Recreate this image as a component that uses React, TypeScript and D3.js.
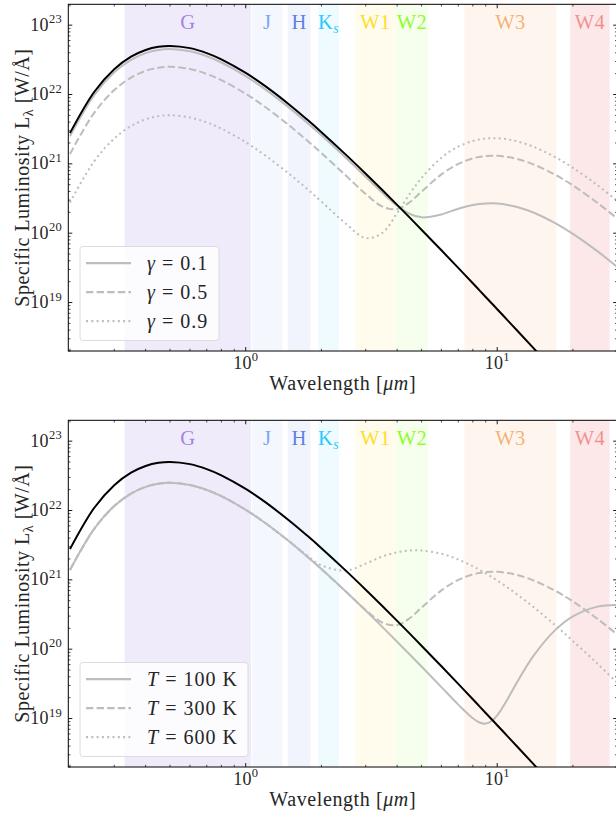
import React from "react";
import * as d3 from "d3";

// Wavelength grid (µm) shared by all spectra
const wavelength = [0.2, 0.25, 0.3, 0.35, 0.4, 0.45, 0.5, 0.6, 0.7, 0.8, 1.0, 1.2, 1.5, 1.75, 2, 2.5, 3, 3.5, 4, 4.5, 5, 6, 7, 8, 8.5, 9, 9.5, 10, 11, 12, 14, 17, 20, 25, 30];

// Specific luminosity (W/Å) of the bare star
const lumStar = [2.774e21, 1.0965e22, 2.318e22, 3.513e22, 4.389e22, 4.875e22, 5.02e22, 4.668e22, 3.958e22, 3.219e22, 2.049e22, 1.308e22, 7.008e21, 4.384e21, 2.864e21, 1.359e21, 7.212e20, 4.161e20, 2.563e20, 1.6615e20, 1.1236e20, 5.665e19, 3.156e19, 1.894e19, 1.5005e19, 1.2041e19, 9.773e18, 8.016e18, 5.539e18, 3.95e18, 2.165e18, 1.012e18, 5.342e17, 2.216e17, 1.078e17];

// Star + dust at 300 K, for three reprocessed fractions γ
const lumGamma01 = [2.497e21, 9.869e21, 2.086e22, 3.162e22, 3.95e22, 4.388e22, 4.518e22, 4.201e22, 3.562e22, 2.897e22, 1.844e22, 1.177e22, 6.307e21, 3.946e21, 2.578e21, 1.2234e21, 6.506e20, 3.812e20, 2.496e20, 1.893e20, 1.693e20, 1.865e20, 2.25e20, 2.548e20, 2.635e20, 2.682e20, 2.692e20, 2.671e20, 2.557e20, 2.382e20, 1.969e20, 1.4e20, 9.795e19, 5.517e19, 3.262e19];
const lumGamma05 = [1.387e21, 5.4825e21, 1.159e22, 1.7565e22, 2.1945e22, 2.4375e22, 2.51e22, 2.334e22, 1.979e22, 1.6095e22, 1.0245e22, 6.54e21, 3.504e21, 2.192e21, 1.432e21, 6.802e20, 3.679e20, 2.414e20, 2.2265e20, 2.818e20, 3.969e20, 7.059e20, 9.988e20, 1.198e21, 1.2577e21, 1.293e21, 1.3071e21, 1.3035e21, 1.2562e21, 1.175e21, 9.759e20, 6.959e20, 4.876e20, 2.75e20, 1.627e20];
const lumGamma09 = [2.774e20, 1.0965e21, 2.318e21, 3.513e21, 4.389e21, 4.875e21, 5.02e21, 4.668e21, 3.958e21, 3.219e21, 2.049e21, 1.308e21, 7.008e20, 4.384e20, 2.864e20, 1.372e20, 8.526e19, 1.016e20, 1.957e20, 3.743e20, 6.245e20, 1.2253e21, 1.7726e21, 2.1412e21, 2.2519e21, 2.3178e21, 2.345e21, 2.34e21, 2.2567e21, 2.1118e21, 1.7549e21, 1.2517e21, 8.773e20, 4.947e20, 2.927e20];

// Star + dust with γ = 0.5, for three dust temperatures
const lumT100 = [1.387e21, 5.4825e21, 1.159e22, 1.7565e22, 2.1945e22, 2.4375e22, 2.51e22, 2.334e22, 1.979e22, 1.6095e22, 1.0245e22, 6.54e21, 3.504e21, 2.192e21, 1.432e21, 6.795e20, 3.606e20, 2.0805e20, 1.2815e20, 8.3075e19, 5.618e19, 2.8325e19, 1.587e19, 1.007e19, 8.77e18, 8.45e18, 9.21e18, 1.113e19, 1.914e19, 3.35e19, 8.19e19, 1.883e20, 2.97e20, 4.11e20, 4.332e20];
const lumT300 = [1.387e21, 5.4825e21, 1.159e22, 1.7565e22, 2.1945e22, 2.4375e22, 2.51e22, 2.334e22, 1.979e22, 1.6095e22, 1.0245e22, 6.54e21, 3.504e21, 2.192e21, 1.432e21, 6.802e20, 3.679e20, 2.414e20, 2.2265e20, 2.818e20, 3.969e20, 7.059e20, 9.988e20, 1.198e21, 1.2577e21, 1.293e21, 1.3071e21, 1.3035e21, 1.2562e21, 1.175e21, 9.759e20, 6.959e20, 4.876e20, 2.75e20, 1.627e20];
const lumT600 = [1.387e21, 5.4825e21, 1.159e22, 1.7565e22, 2.1945e22, 2.4375e22, 2.51e22, 2.334e22, 1.979e22, 1.6095e22, 1.0245e22, 6.541e21, 3.519e21, 2.259e21, 1.621e21, 1.361e21, 1.716e21, 2.174e21, 2.505e21, 2.657e21, 2.655e21, 2.374e21, 1.965e21, 1.572e21, 1.398e21, 1.2415e21, 1.102e21, 9.785e20, 7.741e20, 6.162e20, 3.999e20, 2.221e20, 1.317e20, 6.211e19, 3.282e19];

// Photometric bands (µm)
const bandNames = ["G", "J", "H", "Ks", "W1", "W2", "W3", "W4"];
const bandLo = [0.33, 1.06, 1.47, 1.94, 2.72, 3.95, 7.4, 19.5];
const bandHi = [1.05, 1.4, 1.81, 2.35, 3.95, 5.32, 17.2, 28.0];

// Axis ticks
const xMajorTicks = [1, 10];
const xMinorTicks = [0.2, 0.3, 0.4, 0.5, 0.6, 0.7, 0.8, 0.9, 2, 3, 4, 5, 6, 7, 8, 9, 20, 30];
const yMajorExponents = [19, 20, 21, 22, 23];

const gammaLabels = ["0.1", "0.5", "0.9"];
const tempLabels = ["100", "300", "600"];

// Styling
const bandColors = ["#9370DB", "#6495ED", "#4169E1", "#00BFFF", "#FFD700", "#7CFC00", "#F4A460", "#F08080"];
const bandTint = [0.14, 0.07, 0.07, 0.06, 0.07, 0.07, 0.11, 0.18];
const FONT = "'Liberation Serif', 'DejaVu Serif', serif";
const TEXT = "#262626";
const GRAY = "#bdbdbd";
const DASHES = ["none", "7.4,3.2", "2,3.3"];

const plotLeft = 68.3;
const plotRight = 617.2;
const plotHeight = 346.7;

const x = d3.scaleLog().domain([0.197, 30]).range([plotLeft, plotRight]);

const yMinorValues: number[] = [];
for (let e = 18; e <= 23; e++) {
  for (let m = 2; m <= 9; m++) {
    const v = m * Math.pow(10, e);
    if (v >= 2e18 && v <= 2e23) yMinorValues.push(v);
  }
}

type PanelProps = {
  id: string;
  top: number;
  series: number[][];
  legend: React.ReactNode[];
  legendWidth: number;
};

function Panel({ id, top, series, legend, legendWidth }: PanelProps) {
  const bottom = top + plotHeight;
  const y = d3.scaleLog().domain([2e18, 2e23]).range([bottom, top]);
  const line = d3
    .line<number>()
    .x((_, i) => x(wavelength[i]))
    .y((d) => y(d))
    .curve(d3.curveCatmullRom.alpha(0.5));

  const legendTop = bottom - 104.5;
  const legendLeft = 80;

  return (
    <g>
      <defs>
        <clipPath id={id}>
          <rect x={plotLeft} y={top} width={plotRight - plotLeft} height={plotHeight} />
        </clipPath>
      </defs>

      {/* band shading and names */}
      {bandNames.map((name, i) => {
        const x0 = x(bandLo[i]);
        const x1 = x(bandHi[i]);
        const cx = x(Math.sqrt(bandLo[i] * bandHi[i]));
        return (
          <g key={name}>
            <rect x={x0} y={top} width={x1 - x0} height={plotHeight} fill={bandColors[i]} fillOpacity={bandTint[i]} />
            <text x={cx} y={top + 24.5} textAnchor="middle" fontFamily={FONT} fontSize={20.5} letterSpacing={0.4} fill={bandColors[i]} fillOpacity={0.85}>
              {name === "Ks" ? (
                <>
                  K<tspan dy={4} fontSize={14} fontStyle="italic">s</tspan>
                </>
              ) : (
                name
              )}
            </text>
          </g>
        );
      })}

      {/* spectra */}
      <g clipPath={`url(#${id})`}>
        {series.map((s, i) => (
          <path key={i} d={line(s) ?? ""} fill="none" stroke={GRAY} strokeWidth={2} strokeDasharray={DASHES[i]} />
        ))}
        <path d={line(lumStar) ?? ""} fill="none" stroke="#000" strokeWidth={2} />
      </g>

      {/* frame */}
      <rect x={plotLeft} y={top} width={plotRight - plotLeft} height={plotHeight} fill="none" stroke="#000" strokeWidth={1} />

      {/* x ticks, pointing inward on top and bottom */}
      {xMajorTicks.map((t) => (
        <g key={`xM${t}`} stroke="#000" strokeWidth={0.9}>
          <line x1={x(t)} x2={x(t)} y1={bottom} y2={bottom - 4} />
          <line x1={x(t)} x2={x(t)} y1={top} y2={top + 4} />
        </g>
      ))}
      {xMinorTicks.map((t) => (
        <g key={`xm${t}`} stroke="#000" strokeWidth={0.7}>
          <line x1={x(t)} x2={x(t)} y1={bottom} y2={bottom - 2.2} />
          <line x1={x(t)} x2={x(t)} y1={top} y2={top + 2.2} />
        </g>
      ))}
      {xMajorTicks.map((t, i) => (
        <text key={`xl${t}`} x={x(t)} y={bottom + 17.5} textAnchor="middle" fontFamily={FONT} fontSize={18} letterSpacing={0.3} fill={TEXT}>
          10<tspan dy={-7.5} fontSize={12.5}>{i}</tspan>
        </text>
      ))}

      {/* y ticks, pointing inward on left and right */}
      {yMajorExponents.map((e) => {
        const yy = y(Math.pow(10, e));
        return (
          <g key={`yM${e}`}>
            <line x1={plotLeft} x2={plotLeft + 4} y1={yy} y2={yy} stroke="#000" strokeWidth={0.9} />
            <line x1={plotRight} x2={plotRight - 4} y1={yy} y2={yy} stroke="#000" strokeWidth={0.9} />
            <text x={62} y={yy + 5.5} textAnchor="end" fontFamily={FONT} fontSize={18} letterSpacing={0.3} fill={TEXT}>
              10<tspan dy={-7.5} fontSize={12.5}>{e}</tspan>
            </text>
          </g>
        );
      })}
      {yMinorValues.map((v) => (
        <g key={`ym${v}`} stroke="#000" strokeWidth={0.7}>
          <line x1={plotLeft} x2={plotLeft + 2.2} y1={y(v)} y2={y(v)} />
          <line x1={plotRight} x2={plotRight - 2.2} y1={y(v)} y2={y(v)} />
        </g>
      ))}

      {/* axis titles */}
      <text x={(plotLeft + plotRight) / 2} y={bottom + 38.5} textAnchor="middle" fontFamily={FONT} fontSize={20} letterSpacing={0.6} fill={TEXT}>
        Wavelength [<tspan fontStyle="italic">μm</tspan>]
      </text>
      <text transform={`translate(29, ${top + plotHeight / 2}) rotate(-90)`} textAnchor="middle" fontFamily={FONT} fontSize={20} letterSpacing={0.5} fill={TEXT}>
        Specific Luminosity L<tspan dy={4} fontSize={14}>λ</tspan>
        <tspan dy={-4}> [W/Å]</tspan>
      </text>

      {/* legend */}
      <rect x={legendLeft} y={legendTop} width={legendWidth} height={94} rx={3} fill="#fff" fillOpacity={0.8} stroke="#dcdcdc" strokeWidth={1} />
      {legend.map((label, i) => {
        const ly = legendTop + 16.7 + i * 29;
        return (
          <g key={`lg${i}`}>
            <line x1={legendLeft + 6} x2={legendLeft + 51} y1={ly} y2={ly} stroke={GRAY} strokeWidth={2.2} strokeDasharray={DASHES[i]} />
            <text x={legendLeft + 67} y={ly + 6.5} fontFamily={FONT} fontSize={20} letterSpacing={1} fill={TEXT}>
              {label}
            </text>
          </g>
        );
      })}
    </g>
  );
}

export default function App() {
  const gammaLegend = gammaLabels.map((g) => (
    <>
      <tspan fontStyle="italic">γ</tspan> = {g}
    </>
  ));
  const tempLegend = tempLabels.map((t) => (
    <>
      <tspan fontStyle="italic">T</tspan> = {t} K
    </>
  ));
  return (
    <svg width={616} height={818} viewBox="0 0 616 818" style={{ position: "absolute", left: 0, top: 0, background: "#fff" }}>
      <rect x={0} y={0} width={616} height={818} fill="#fff" />
      <Panel id="clip-gamma" top={4.3} series={[lumGamma01, lumGamma05, lumGamma09]} legend={gammaLegend} legendWidth={139} />
      <Panel id="clip-temp" top={420.3} series={[lumT100, lumT300, lumT600]} legend={tempLegend} legendWidth={168} />
    </svg>
  );
}
